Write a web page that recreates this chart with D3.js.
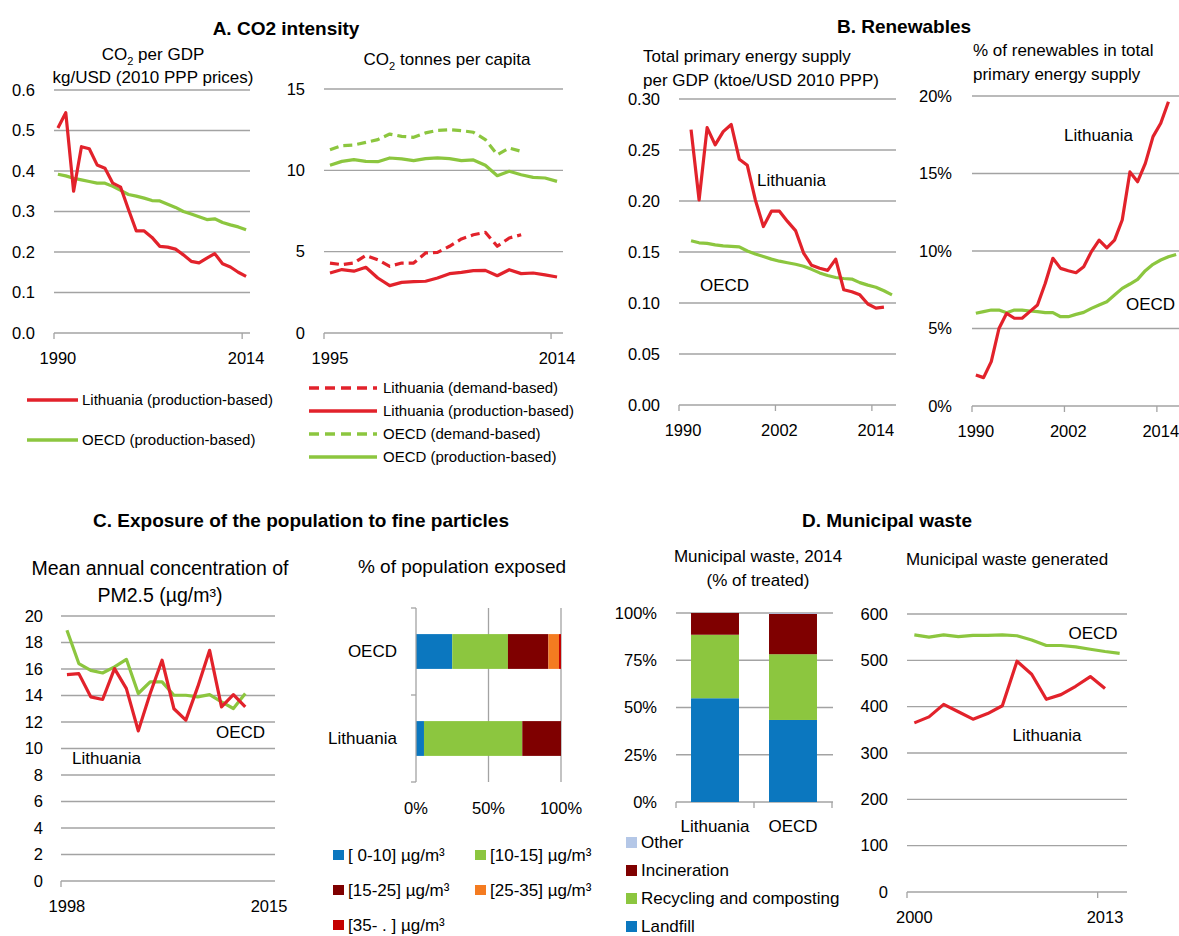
<!DOCTYPE html>
<html>
<head>
<meta charset="utf-8">
<title>Lithuania - environment indicators</title>
<script src="https://d3js.org/d3.v7.min.js"></script>
<style>
    body { margin: 0; background: #fff; }
    svg text { fill: #000; }
    .title { font-family: "Liberation Sans", Arial, sans-serif; font-weight: bold; font-size: 19px; }
</style>
</head>
<body>
<div id="chart"></div>
<script>
    // ---- A. CO2 intensity ----
    var gdpYears = d3.range(1990, 2015);
    var ltuCo2Gdp = [0.506, 0.544, 0.35, 0.46, 0.455, 0.415, 0.407, 0.37, 0.36, 0.305, 0.252, 0.252, 0.236, 0.214, 0.212, 0.207, 0.193, 0.177, 0.173, 0.185, 0.196, 0.171, 0.163, 0.15, 0.14];
    var oecdCo2Gdp = [0.392, 0.388, 0.382, 0.378, 0.374, 0.37, 0.37, 0.362, 0.352, 0.342, 0.338, 0.333, 0.327, 0.326, 0.318, 0.31, 0.3, 0.294, 0.287, 0.28, 0.282, 0.273, 0.267, 0.262, 0.255];

    var capYears = d3.range(1995, 2015);
    var ltuCapDemand = [4.3, 4.2, 4.3, 4.77, 4.5, 4.1, 4.3, 4.3, 4.92, 4.96, 5.33, 5.78, 6.04, 6.19, 5.33, 5.84, 6.04];
    var ltuCapProd = [3.69, 3.9, 3.8, 4.04, 3.38, 2.91, 3.11, 3.16, 3.18, 3.38, 3.65, 3.73, 3.83, 3.85, 3.52, 3.89, 3.65, 3.69, 3.57, 3.44];
    var oecdCapDemand = [11.27, 11.52, 11.56, 11.72, 11.89, 12.23, 12.09, 12.03, 12.3, 12.46, 12.5, 12.44, 12.34, 11.89, 10.96, 11.37, 11.17];
    var oecdCapProd = [10.31, 10.55, 10.66, 10.55, 10.53, 10.76, 10.7, 10.6, 10.72, 10.76, 10.72, 10.6, 10.64, 10.31, 9.67, 9.94, 9.73, 9.57, 9.53, 9.32];

    // ---- B. Renewables ----
    var energyYears = d3.range(1990, 2017);
    var ltuTpes = [0.27, 0.201, 0.272, 0.255, 0.268, 0.275, 0.241, 0.235, 0.201, 0.175, 0.19, 0.19, 0.18, 0.171, 0.149, 0.137, 0.134, 0.132, 0.143, 0.113, 0.111, 0.108, 0.099, 0.095, 0.096]; // 1991-2015
    var oecdTpes = [0.161, 0.159, 0.1585, 0.157, 0.156, 0.1555, 0.155, 0.151, 0.148, 0.1455, 0.143, 0.141, 0.1395, 0.138, 0.136, 0.133, 0.1295, 0.127, 0.125, 0.124, 0.1235, 0.12, 0.1175, 0.1155, 0.112, 0.108]; // 1991-2016
    var ltuRenew = [2.0, 1.83, 2.86, 5.0, 5.98, 5.66, 5.66, 6.09, 6.52, 7.9, 9.53, 8.88, 8.73, 8.6, 8.99, 9.96, 10.7, 10.2, 10.7, 12.0, 15.1, 14.47, 15.65, 17.38, 18.24, 19.63]; // 1990-2015
    var oecdRenew = [5.98, 6.09, 6.19, 6.19, 6.02, 6.19, 6.19, 6.13, 6.09, 6.02, 6.02, 5.76, 5.76, 5.91, 6.04, 6.3, 6.52, 6.73, 7.16, 7.59, 7.87, 8.17, 8.73, 9.14, 9.42, 9.63, 9.78]; // 1990-2016

    // ---- C. Fine particles ----
    var pmYears = d3.range(1998, 2016);
    var ltuPm = [15.58, 15.65, 13.9, 13.7, 16.03, 14.52, 11.33, 14.15, 16.66, 13.0, 12.14, 14.65, 17.41, 13.14, 14.07, 13.14];
    var oecdPm = [18.92, 16.41, 15.9, 15.7, 16.16, 16.73, 14.15, 15.03, 15.03, 14.02, 14.02, 13.9, 14.07, 13.52, 13.02, 14.15];

    var expCountries = ["OECD", "Lithuania"];
    var expBins = ["[ 0-10] µg/m³", "[10-15] µg/m³", "[15-25] µg/m³", "[25-35] µg/m³", "[35- . ] µg/m³"];
    var expOecd = [25, 38.4, 27.9, 7.3, 1.4];
    var expLtu = [5.5, 67.8, 26.7, 0, 0];

    // ---- D. Municipal waste ----
    var wasteCountries = ["Lithuania", "OECD"];
    var wasteTypes = ["Landfill", "Recycling and composting", "Incineration", "Other"];
    var wasteLtu = [54.9, 33.6, 11.5, 0];
    var wasteOecd = [43.4, 34.8, 21.4, 0.4];

    var wasteYears = d3.range(2000, 2015);
    var ltuWaste = [365, 378, 405, 389, 373, 385, 402, 498, 470, 416, 426, 444, 465, 439];
    var oecdWaste = [555, 550, 555, 551, 554, 554, 555, 553, 544, 532, 532, 529, 524, 519, 515];

    var RED = "#e2222b", GREEN = "#8cc63f", GRID = "#a3a3a3";
    var BLUE = "#0b77bf", DARKRED = "#7f0000", ORANGE = "#f47b20", BRIGHTRED = "#c40000", LIGHTBLUE = "#b4c7e7";
    var FONT = '"Liberation Sans", Arial, sans-serif';
    var TICK = 16.5, SUB = 17, NOTE = 17;

    var svg = d3.select("#chart").append("svg")
        .attr("width", 1179).attr("height", 936)
        .style("font-family", FONT);

    function label(x, y, str, size, anchor) {
        return svg.append("text").attr("x", x).attr("y", y)
            .attr("text-anchor", anchor || "start")
            .style("font-size", (size || NOTE) + "px").text(str);
    }

    // text with CO2 subscript
    function co2Label(x, y, rest, size) {
        var t = svg.append("text").attr("x", x).attr("y", y)
            .attr("text-anchor", "middle").style("font-size", size + "px");
        t.append("tspan").text("CO");
        t.append("tspan").text("2").attr("dy", 5).style("font-size", (size * 0.65) + "px");
        t.append("tspan").text(rest).attr("dy", -5);
        return t;
    }

    function title(x, y, str) {
        svg.append("text").attr("class", "title").attr("x", x).attr("y", y)
            .attr("text-anchor", "middle").text(str);
    }

    function linePanel(p) {
        var x = d3.scaleBand().domain(p.cats).range(p.xr);
        var y = d3.scaleLinear().domain(p.yd).range(p.yr);
        var bw = x.bandwidth();
        var g = svg.append("g");

        g.append("g").selectAll("line").data(p.yticks).join("line")
            .attr("x1", p.xr[0]).attr("x2", p.xr[1])
            .attr("y1", d => y(d)).attr("y2", d => y(d))
            .attr("stroke", GRID).attr("stroke-width", 1.3);

        g.append("g").selectAll("text").data(p.yticks).join("text")
            .attr("x", p.labelX).attr("y", d => y(d)).attr("dy", "0.35em")
            .attr("text-anchor", "end").style("font-size", (p.yfs || TICK) + "px")
            .text(p.yfmt);

        g.append("g").selectAll("line").data(p.tickCats).join("line")
            .attr("x1", d => x(d)).attr("x2", d => x(d))
            .attr("y1", p.yr[0]).attr("y2", p.yr[0] + 6)
            .attr("stroke", GRID).attr("stroke-width", 1.3);

        g.append("g").selectAll("text").data(p.labelCats).join("text")
            .attr("x", d => x(d) + bw / 2).attr("y", p.yr[0] + 25).attr("dy", "0.35em")
            .attr("text-anchor", "middle").style("font-size", TICK + "px")
            .text(d => d);

        var line = d3.line().x(d => x(d[0]) + bw / 2).y(d => y(d[1]));
        p.series.forEach(function(s) {
            var pts = s.values.map((v, i) => [s.start + i, v]);
            g.append("path").attr("d", line(pts))
                .attr("fill", "none").attr("stroke", s.color).attr("stroke-width", 3.2)
                .attr("stroke-linejoin", "round")
                .attr("stroke-dasharray", s.dash ? "9,5" : null);
        });
    }

    // ================= A =================
    title(286, 35, "A. CO2 intensity");
    co2Label(153, 60, " per GDP", SUB);
    label(153, 83, "kg/USD (2010 PPP prices)", SUB, "middle");

    linePanel({
        cats: gdpYears, xr: [54, 250], yr: [333, 90], yd: [0, 0.6],
        yticks: [0, 0.1, 0.2, 0.3, 0.4, 0.5, 0.6], yfmt: d3.format(".1f"), labelX: 35,
        tickCats: [1990, 2014], labelCats: [1990, 2014],
        series: [
            { values: oecdCo2Gdp, start: 1990, color: GREEN },
            { values: ltuCo2Gdp, start: 1990, color: RED }
        ]
    });

    var legendA1 = [
        { name: "Lithuania (production-based)", color: RED, dash: false },
        { name: "OECD (production-based)", color: GREEN, dash: false }
    ];
    var lgA1 = svg.append("g").selectAll("g").data(legendA1).join("g")
        .attr("transform", (d, i) => "translate(27," + (400 + i * 40) + ")");
    lgA1.append("line").attr("x1", 0).attr("x2", 51)
        .attr("stroke", d => d.color).attr("stroke-width", 3.5);
    lgA1.append("text").attr("x", 55).attr("dy", "0.35em").style("font-size", "15px").text(d => d.name);

    co2Label(447, 65, " tonnes per capita", SUB);

    linePanel({
        cats: capYears, xr: [324, 563], yr: [333, 89], yd: [0, 15],
        yticks: [0, 5, 10, 15], yfmt: d => d, labelX: 305,
        tickCats: [1995, 2014], labelCats: [1995, 2014],
        series: [
            { values: oecdCapProd, start: 1995, color: GREEN },
            { values: oecdCapDemand, start: 1995, color: GREEN, dash: true },
            { values: ltuCapProd, start: 1995, color: RED },
            { values: ltuCapDemand, start: 1995, color: RED, dash: true }
        ]
    });

    var legendA2 = [
        { name: "Lithuania (demand-based)", color: RED, dash: true },
        { name: "Lithuania (production-based)", color: RED, dash: false },
        { name: "OECD (demand-based)", color: GREEN, dash: true },
        { name: "OECD (production-based)", color: GREEN, dash: false }
    ];
    var lgA2 = svg.append("g").selectAll("g").data(legendA2).join("g")
        .attr("transform", (d, i) => "translate(309," + (388 + i * 23) + ")");
    lgA2.append("line").attr("x1", 0).attr("x2", 68)
        .attr("stroke", d => d.color).attr("stroke-width", 3.5)
        .attr("stroke-dasharray", d => d.dash ? "10,6" : null);
    lgA2.append("text").attr("x", 74).attr("dy", "0.35em").style("font-size", "15px").text(d => d.name);

    // ================= B =================
    title(904, 33, "B. Renewables");
    label(643, 62, "Total primary energy supply", SUB);
    label(643, 86, "per GDP (ktoe/USD 2010 PPP)", SUB);

    linePanel({
        cats: energyYears, xr: [679, 896], yr: [405, 99], yd: [0, 0.3],
        yticks: [0, 0.05, 0.1, 0.15, 0.2, 0.25, 0.3], yfmt: d3.format(".2f"), labelX: 660,
        tickCats: [1990, 2002, 2014], labelCats: [1990, 2002, 2014],
        series: [
            { values: oecdTpes, start: 1991, color: GREEN },
            { values: ltuTpes, start: 1991, color: RED }
        ]
    });
    label(757, 186, "Lithuania");
    label(700, 291, "OECD");

    label(973, 56, "% of renewables in total", SUB);
    label(973, 80, "primary energy supply", SUB);

    linePanel({
        cats: energyYears, xr: [972, 1180], yr: [406, 96], yd: [0, 20],
        yticks: [0, 5, 10, 15, 20], yfmt: d => d + "%", labelX: 952,
        tickCats: [1990, 2002, 2014], labelCats: [1990, 2002, 2014],
        series: [
            { values: oecdRenew, start: 1990, color: GREEN },
            { values: ltuRenew, start: 1990, color: RED }
        ]
    });
    label(1064, 141, "Lithuania");
    label(1126, 310, "OECD");

    // ================= C =================
    title(301, 527, "C. Exposure of the population to fine particles");
    label(160, 575, "Mean annual concentration of", 19.5, "middle");
    label(160, 602, "PM2.5 (µg/m³)", 19.5, "middle");

    linePanel({
        cats: pmYears, xr: [61, 275], yr: [881, 616], yd: [0, 20],
        yticks: [0, 2, 4, 6, 8, 10, 12, 14, 16, 18, 20], yfmt: d => d, labelX: 43, yfs: 16.5,
        tickCats: [1998], labelCats: [1998, 2015],
        series: [
            { values: oecdPm, start: 1998, color: GREEN },
            { values: ltuPm, start: 1998, color: RED }
        ]
    });
    label(72, 764, "Lithuania");
    label(216, 738, "OECD");

    // horizontal stacked bars
    label(462, 573, "% of population exposed", 19, "middle");
    var expColors = [BLUE, GREEN, DARKRED, ORANGE, BRIGHTRED];
    var expRows = [expOecd, expLtu];
    var xe = d3.scaleLinear().domain([0, 100]).range([416, 561]);
    var ye = d3.scaleBand().domain(expCountries).range([608, 782]).paddingInner(0.6).paddingOuter(0.3);
    var gC = svg.append("g");
    gC.selectAll(".vgrid").data([50, 100]).join("line")
        .attr("x1", d => xe(d)).attr("x2", d => xe(d)).attr("y1", 608).attr("y2", 782)
        .attr("stroke", GRID).attr("stroke-width", 1.3);
    expCountries.forEach(function(c, ci) {
        var vals = expRows[ci];
        var acc = 0;
        vals.forEach(function(v, k) {
            gC.append("rect").attr("x", xe(acc)).attr("width", xe(acc + v) - xe(acc))
                .attr("y", ye(c)).attr("height", ye.bandwidth()).attr("fill", expColors[k]);
            acc += v;
        });
    });
    gC.append("line").attr("x1", xe(0)).attr("x2", xe(0)).attr("y1", 608).attr("y2", 782)
        .attr("stroke", GRID).attr("stroke-width", 1.3);
    gC.selectAll(".ltick").data([608, 695, 782]).join("line")
        .attr("x1", xe(0) - 5).attr("x2", xe(0)).attr("y1", d => d).attr("y2", d => d)
        .attr("stroke", GRID).attr("stroke-width", 1.3);
    gC.selectAll(".clab").data(expCountries).join("text")
        .attr("x", 397).attr("y", d => ye(d) + ye.bandwidth() / 2).attr("dy", "0.35em")
        .attr("text-anchor", "end").style("font-size", NOTE + "px").text(d => d);
    gC.selectAll(".xlab").data([0, 50, 100]).join("text")
        .attr("x", d => xe(d)).attr("y", 808).attr("dy", "0.35em")
        .attr("text-anchor", "middle").style("font-size", TICK + "px").text(d => d + "%");

    var lgC = svg.append("g").selectAll("g").data(expBins).join("g")
        .attr("transform", (d, i) => "translate(" + (333 + (i % 2) * 142) + "," + (855 + Math.floor(i / 2) * 35) + ")");
    lgC.append("rect").attr("x", 0).attr("y", -5).attr("width", 11).attr("height", 10)
        .attr("fill", (d, i) => expColors[i]);
    lgC.append("text").attr("x", 15).attr("dy", "0.35em").style("font-size", NOTE + "px").text(d => d);

    // ================= D =================
    title(887, 527, "D. Municipal waste");
    label(758, 562, "Municipal waste, 2014", SUB, "middle");
    label(758, 586, "(% of treated)", SUB, "middle");

    var wasteColors = [BLUE, GREEN, DARKRED, LIGHTBLUE];
    var wasteRows = [wasteLtu, wasteOecd];
    var xw = d3.scaleBand().domain(wasteCountries).range([676, 832]).paddingInner(0.385).paddingOuter(0.1925);
    var yw = d3.scaleLinear().domain([0, 100]).range([802, 613]);
    var gD = svg.append("g");
    gD.selectAll(".hgrid").data([0, 25, 50, 75, 100]).join("line")
        .attr("x1", 676).attr("x2", 833).attr("y1", d => yw(d)).attr("y2", d => yw(d))
        .attr("stroke", GRID).attr("stroke-width", 1.3);
    gD.selectAll(".ylab").data([0, 25, 50, 75, 100]).join("text")
        .attr("x", 657).attr("y", d => yw(d)).attr("dy", "0.35em")
        .attr("text-anchor", "end").style("font-size", TICK + "px").text(d => d + "%");
    wasteCountries.forEach(function(c, ci) {
        var acc = 0;
        wasteRows[ci].forEach(function(v, k) {
            gD.append("rect").attr("x", xw(c)).attr("width", xw.bandwidth())
                .attr("y", yw(acc + v)).attr("height", yw(acc) - yw(acc + v))
                .attr("fill", wasteColors[k]);
            acc += v;
        });
    });
    gD.selectAll(".btick").data([676, 754, 832]).join("line")
        .attr("x1", d => d).attr("x2", d => d).attr("y1", 802).attr("y2", 808)
        .attr("stroke", GRID).attr("stroke-width", 1.3);
    gD.selectAll(".xlab").data(wasteCountries).join("text")
        .attr("x", d => xw(d) + xw.bandwidth() / 2).attr("y", 826).attr("dy", "0.35em")
        .attr("text-anchor", "middle").style("font-size", NOTE + "px").text(d => d);

    var legendD = ["Other", "Incineration", "Recycling and composting", "Landfill"];
    var lgD = svg.append("g").selectAll("g").data(legendD).join("g")
        .attr("transform", (d, i) => "translate(626," + (842 + i * 28) + ")");
    lgD.append("rect").attr("x", 0).attr("y", -5).attr("width", 11).attr("height", 11)
        .attr("fill", d => wasteColors[wasteTypes.indexOf(d)]);
    lgD.append("text").attr("x", 15).attr("dy", "0.35em").style("font-size", NOTE + "px").text(d => d);

    label(1007, 565, "Municipal waste generated", SUB, "middle");
    linePanel({
        cats: wasteYears, xr: [907, 1127], yr: [892, 614], yd: [0, 600],
        yticks: [0, 100, 200, 300, 400, 500, 600], yfmt: d => d, labelX: 888,
        tickCats: [2000, 2013], labelCats: [2000, 2013],
        series: [
            { values: oecdWaste, start: 2000, color: GREEN },
            { values: ltuWaste, start: 2000, color: RED }
        ]
    });
    label(1093, 639, "OECD", NOTE, "middle");
    label(1047, 741, "Lithuania", NOTE, "middle");
</script>
</body>
</html>
